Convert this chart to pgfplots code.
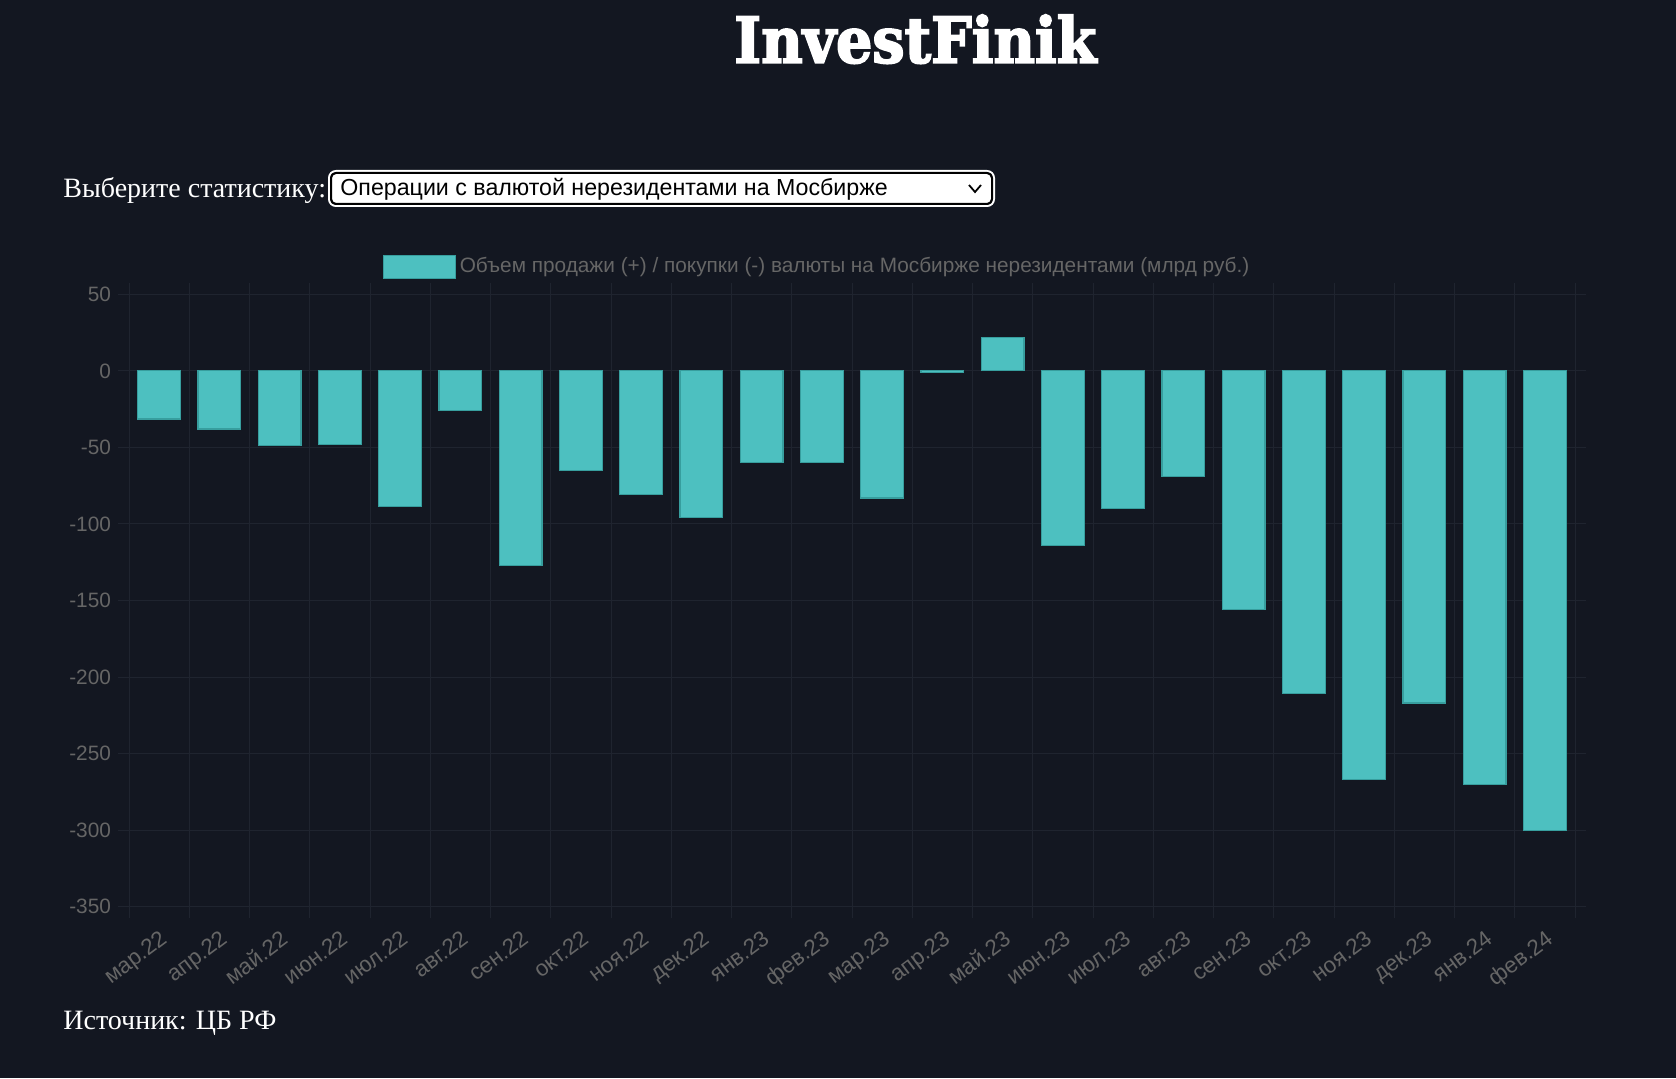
\documentclass[border=0pt]{standalone}
\usepackage{fontspec}
\setmainfont{Liberation Sans}
\newfontfamily\serif{Liberation Serif}
\newfontfamily\titlefont{DejaVu Serif}[BoldFeatures={FakeBold=3}]
\usepackage{graphicx}
\usepackage{pgfplots}
\pgfplotsset{compat=1.18}
\definecolor{bg}{RGB}{19,23,33}
\definecolor{gridc}{RGB}{31,36,47}
\definecolor{tickc}{RGB}{102,102,102}
\definecolor{barfill}{RGB}{77,192,192}
\definecolor{barline}{RGB}{55,158,158}
\begin{document}
\begin{tikzpicture}
\fill[bg] (0,0) rectangle (838pt,539pt);
% title
\node[anchor=south west, inner sep=0, text=white] at (367pt,507pt) {\resizebox{181pt}{24pt}{\titlefont\bfseries InvestFinik}};
% selector
\node[anchor=base west, inner sep=0, text=white, font=\serif\fontsize{14}{17}\selectfont] at (31.5pt,440pt) {Выберите статистику:};
\draw[white, line width=1pt, rounded corners=3.5pt] (164.5pt,436pt) rectangle (497pt,453.5pt);
\draw[black, fill=white, line width=1pt, rounded corners=2.5pt] (165.5pt,437pt) rectangle (496pt,452.5pt);
\node[anchor=west, inner sep=0, text=black, font=\fontsize{11.6}{14}\selectfont] at (170pt,444.5pt) {Операции с валютой нерезидентами на Мосбирже};
\draw[black, line width=0.9pt] (484.5pt,446.5pt) -- (487.5pt,443pt) -- (490.5pt,446.5pt);
% source
\node[anchor=base west, inner sep=0, text=white, font=\serif\fontsize{14}{17}\selectfont] at (31.5pt,24.5pt) {Источник: ЦБ РФ};
\begin{axis}[
  at={(64.5pt,85.65pt)}, anchor=south west,
  scale only axis, width=723pt, height=306.2pt,
  xmin=-0.5, xmax=23.5, ymin=-350, ymax=50,
  ytick={-350,-300,...,50},
  xtick={0,...,23},
  xticklabels={мар.22,апр.22,май.22,июн.22,июл.22,авг.22,сен.22,окт.22,ноя.22,дек.22,янв.23,фев.23,мар.23,апр.23,май.23,июн.23,июл.23,авг.23,сен.23,окт.23,ноя.23,дек.23,янв.24,фев.24},
  minor xtick={-0.5,0.5,...,23.5},
  ymajorgrids, xminorgrids,
  grid style={gridc, line width=0.5pt},
  axis line style={draw=none},
  tick align=outside,
  major tick length=5.5pt, minor tick length=5.5pt,
  tick style={gridc, line width=0.5pt},
  major x tick style={draw=none},
  ticklabel style={font=\fontsize{10.4}{12}\selectfont, text=tickc},
  /pgf/number format/assume math mode=true,
  yticklabel style={anchor=east},
  xticklabel style={rotate=37, anchor=north east, inner sep=1pt, font=\fontsize{11.2}{13}\selectfont},
  xticklabel shift=4pt,
  legend style={at={(0.4765,1.0454)}, anchor=center, draw=none, fill=none,
    font=\fontsize{10.4}{12}\selectfont, text=tickc},
  legend image code/.code={\draw[fill=barfill, draw=barline, line width=0.5pt] (0pt,-5.75pt) rectangle (36pt,5.75pt);},
]
\addplot[ybar, bar width=0.71, fill=barfill, draw=barline, line width=0.6pt] coordinates {
(0,-31.5) (1,-38) (2,-49) (3,-48) (4,-88.5) (5,-26) (6,-127) (7,-65) (8,-81) (9,-96)
(10,-60) (11,-60) (12,-83) (13,-1) (14,22) (15,-114) (16,-90) (17,-69) (18,-156)
(19,-211) (20,-267) (21,-217) (22,-270) (23,-300)};
\addlegendentry{Объем продажи (+) / покупки (-) валюты на Мосбирже нерезидентами (млрд руб.)}
\end{axis}
\end{tikzpicture}
\end{document}
